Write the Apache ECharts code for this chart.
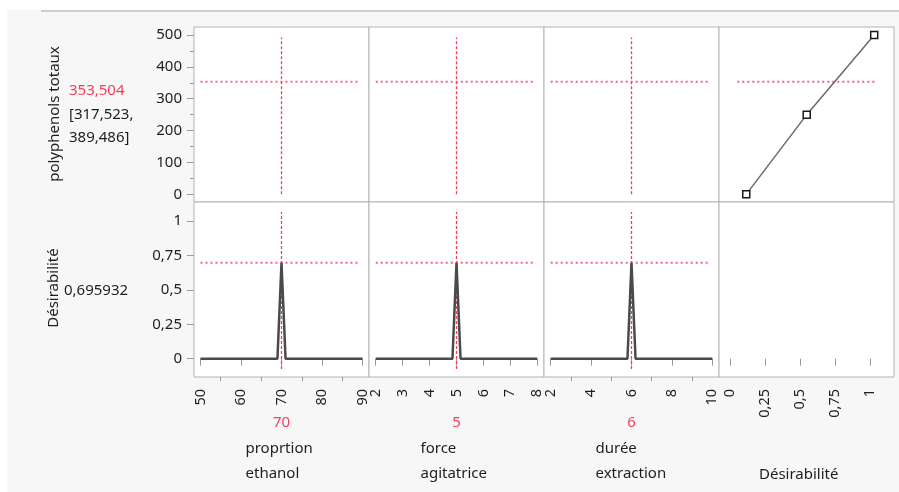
<!DOCTYPE html>
<html><head><meta charset="utf-8">
<script src="https://cdn.jsdelivr.net/npm/echarts@6/dist/echarts.min.js"></script>
<style>
html,body{margin:0;padding:0;background:#fff;}
#bg{position:absolute;left:7px;top:10px;width:892px;height:482px;background:#f7f7f7;}
#topline{position:absolute;left:41px;top:10px;width:858px;height:2px;background:#cfcfcf;}
#c{position:absolute;left:0;top:0;width:899px;height:492px;}
</style>
</head><body><div id="bg"></div><div id="topline"></div><div id="c"></div>
<script>
// ---------- data ----------
const factorNames = [['proprtion', 'ethanol'], ['force', 'agitatrice'], ['durée', 'extraction']];
const factorCurrentText = ['70', '5', '6'];
const factorCurrent = [70, 5, 6];
const responseName = 'polyphenols totaux';
const responsePred = 353.504;
const responsePredText = '353,504';
const responseCIText = ['[317,523,', '389,486]'];
const desirName = 'Désirabilité';
const desirPred = 0.695932;
const desirPredText = '0,695932';

// desirability traces vs each factor
const desirTrace1 = [[50, 0], [69, 0], [70, 0.696], [71, 0], [90, 0]];
const desirTrace2 = [[2, 0], [4.85, 0], [5, 0.696], [5.15, 0], [8, 0]];
const desirTrace3 = [[2, 0], [5.8, 0], [6, 0.696], [6.2, 0], [10, 0]];
// desirability function (response value vs desirability)
const desirFuncDes = [0.116, 0.548, 1.03];
const desirFuncResp = [0, 250, 500];

// tick values
const xTicks = [[50, 60, 70, 80, 90], [2, 3, 4, 5, 6, 7, 8], [2, 4, 6, 8, 10], [0, 0.25, 0.5, 0.75, 1]];
const xMinor = [[55, 65, 75, 85], [], [3, 5, 7, 9], []];
const yTicksTop = [0, 100, 200, 300, 400, 500];
const yMinorTop = [50, 150, 250, 350, 450];
const yTicksBot = [0, 0.25, 0.5, 0.75, 1];

// ---------- layout / scales ----------
const colLeft = [194, 369, 544, 719];
const rowTop = [27, 202];
const W = 175, H = 175;
const xRange = [[48.4, 91.6], [1.75, 8.25], [1.67, 10.33], [-0.0786, 1.1714]];
const yRange = [[-24, 525], [-0.133, 1.138]];
const redHSpan = [[50, 89.5], [2, 7.92], [2, 9.9], [0.052, 1.04]];
const redVSpan = [[0, 492], [-0.075, 1.065]];

const FONT = '"Noto Sans", "Open Sans", sans-serif';
const RED = '#f0405c';
const TXT = '#1e1e1e';
const fmt = v => String(v).replace('.', ',');

const grids = [], xAxes = [], yAxes = [], series = [];
const mainX = {}, mainY = {};

for (let r = 0; r < 2; r++) {
  for (let c = 0; c < 4; c++) {
    const gi = grids.length;
    grids.push({left: colLeft[c], top: rowTop[r], width: W, height: H, show: true,
      backgroundColor: '#ffffff', borderColor: '#b3b3b3', borderWidth: 1});
    const showX = r === 1;
    mainX[gi] = xAxes.length;
    xAxes.push({type: 'value', gridIndex: gi, min: xRange[c][0], max: xRange[c][1], position: 'bottom',
      axisLine: {show: false}, splitLine: {show: false},
      axisTick: {show: showX, length: 7, customValues: xTicks[c], lineStyle: {color: '#9a9a9a'}},
      axisLabel: {show: showX, customValues: xTicks[c], rotate: 90, margin: 12, formatter: fmt,
        color: TXT, fontSize: 14.5, fontFamily: FONT}});
    if (showX && xMinor[c].length) {
      xAxes.push({type: 'value', gridIndex: gi, min: xRange[c][0], max: xRange[c][1], position: 'bottom',
        axisLine: {show: false}, splitLine: {show: false},
        axisTick: {show: true, length: 4, customValues: xMinor[c], lineStyle: {color: '#9a9a9a'}},
        axisLabel: {show: false}});
    }
    const showY = c === 0;
    const yt = r === 0 ? yTicksTop : yTicksBot;
    mainY[gi] = yAxes.length;
    yAxes.push({type: 'value', gridIndex: gi, min: yRange[r][0], max: yRange[r][1], position: 'left',
      axisLine: {show: false}, splitLine: {show: false},
      axisTick: {show: showY, length: 7, customValues: yt, lineStyle: {color: '#9a9a9a'}},
      axisLabel: {show: showY, customValues: yt, margin: 12, formatter: fmt,
        color: TXT, fontSize: 15, fontFamily: FONT}});
    if (showY && r === 0) {
      yAxes.push({type: 'value', gridIndex: gi, min: yRange[r][0], max: yRange[r][1], position: 'left',
        axisLine: {show: false}, splitLine: {show: false},
        axisTick: {show: true, length: 4, customValues: yMinorTop, lineStyle: {color: '#9a9a9a'}},
        axisLabel: {show: false}});
    }
  }
}

function addLine(gi, data, style, extra) {
  series.push(Object.assign({type: 'line', xAxisIndex: mainX[gi], yAxisIndex: mainY[gi], data: data,
    symbol: 'none', lineStyle: style, silent: true, animation: false}, extra || {}));
}
const hStyle = {color: RED, width: 2, type: [2, 3], opacity: 0.8};
const vStyle = {color: RED, width: 1.3, type: [3, 2]};
const preds = [responsePred, desirPred];
const traces = [desirTrace1, desirTrace2, desirTrace3];

for (let r = 0; r < 2; r++) {
  for (let c = 0; c < 4; c++) {
    const gi = r * 4 + c;
    if (c < 3) {
      addLine(gi, [[redHSpan[c][0], preds[r]], [redHSpan[c][1], preds[r]]], hStyle);
      addLine(gi, [[factorCurrent[c], redVSpan[r][0]], [factorCurrent[c], redVSpan[r][1]]], vStyle);
      if (r === 1) addLine(gi, traces[c], {color: '#4a4a4a', width: 2.5}, {z: 3});
    } else if (r === 0) {
      addLine(gi, [[redHSpan[c][0], preds[r]], [redHSpan[c][1], preds[r]]], hStyle);
      addLine(gi, desirFuncDes.map((d, i) => [d, desirFuncResp[i]]), {color: '#6a6a6a', width: 1.5},
        {symbol: 'rect', symbolSize: 7, showAllSymbol: true,
         itemStyle: {color: '#ffffff', borderColor: '#1a1a1a', borderWidth: 1.5}, z: 3});
    }
  }
}

const txt = (x, y, text, opts) => Object.assign({type: 'text', x: x, y: y, silent: true,
  style: Object.assign({text: text, font: '15px ' + FONT, fill: TXT, align: 'left', verticalAlign: 'middle'}, (opts && opts.style) || {})},
  opts && opts.rotation ? {rotation: opts.rotation} : {});

const graphic = [
  txt(55, 114, responseName, {rotation: Math.PI / 2, style: {align: 'center'}}),
  txt(69, 91, responsePredText, {style: {fill: RED}}),
  txt(69, 115, responseCIText[0]),
  txt(69, 138, responseCIText[1]),
  txt(54, 288, desirName, {rotation: Math.PI / 2, style: {align: 'center'}}),
  txt(64, 291, desirPredText),
];
const colCenter = [281.5, 456.5, 631.5];
for (let c = 0; c < 3; c++) {
  graphic.push(txt(colCenter[c], 422.5, factorCurrentText[c], {style: {fill: RED, align: 'center'}}));
  graphic.push(txt(colCenter[c] - 36, 449, factorNames[c][0]));
  graphic.push(txt(colCenter[c] - 36, 474, factorNames[c][1]));
}
graphic.push(txt(759, 475, desirName));

const chart = echarts.init(document.getElementById('c'), null, {renderer: 'canvas'});
chart.setOption({
  animation: false,
  grid: grids, xAxis: xAxes, yAxis: yAxes, series: series, graphic: graphic
});
</script>
</body></html>
